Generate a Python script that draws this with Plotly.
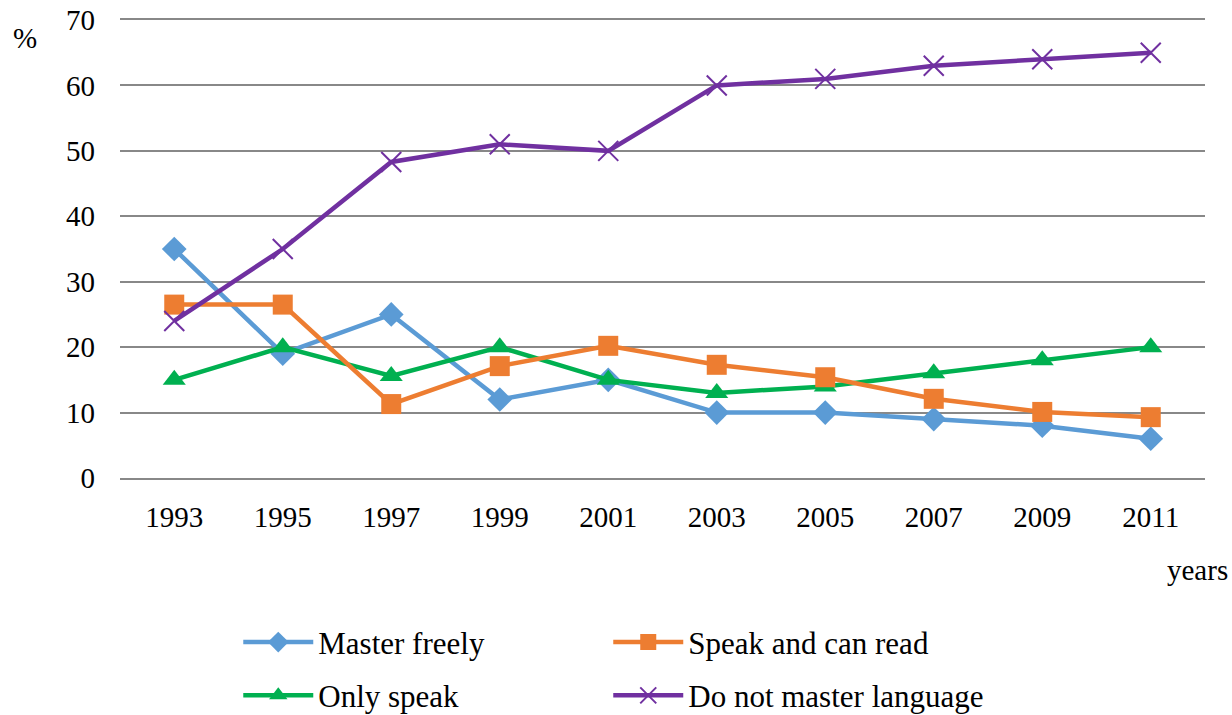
import plotly.graph_objects as go

years = ["1993", "1995", "1997", "1999", "2001", "2003", "2005", "2007", "2009", "2011"]
master_freely = [35, 19, 25, 12, 15, 10, 10, 9, 8, 6]
speak_read = [26.5, 26.5, 11.3, 17.1, 20.2, 17.3, 15.4, 12.1, 10.1, 9.3]
only_speak = [15, 20, 15.6, 20, 15, 13, 14, 16, 18, 20]
not_master = [24, 35, 48.3, 51, 50, 60, 61, 63, 64, 65]

FONT = "Liberation Serif"

fig = go.Figure()
fig.add_trace(go.Scatter(x=years, y=master_freely, name="Master freely", mode="lines+markers",
                         line=dict(color="#5B9BD5", width=4.5),
                         marker=dict(symbol="diamond", size=19, color="#5B9BD5"),
                         legend="legend", legendgroup="a"))
fig.add_trace(go.Scatter(x=years, y=only_speak, name="Only speak", mode="lines+markers",
                         line=dict(color="#00B050", width=4.5),
                         marker=dict(symbol="triangle-up", size=20, color="#00B050"),
                         legend="legend", legendgroup="b"))
fig.add_trace(go.Scatter(x=years, y=speak_read, name="Speak and can read", mode="lines+markers",
                         line=dict(color="#ED7D31", width=4.5),
                         marker=dict(symbol="square", size=20, color="#ED7D31"),
                         legend="legend2", legendgroup="c"))
fig.add_trace(go.Scatter(x=years, y=not_master, name="Do not master language", mode="lines+markers",
                         line=dict(color="#7030A0", width=4.5),
                         marker=dict(symbol="x-thin", size=20, line=dict(color="#7030A0", width=2)),
                         legend="legend2", legendgroup="d"))

fig.update_layout(
    width=1232, height=715,
    margin=dict(l=120, r=27, t=20, b=237, autoexpand=False),
    paper_bgcolor="white", plot_bgcolor="white",
    font=dict(family=FONT, size=29, color="black"),
    showlegend=True,
    legend=dict(x=0.109, y=-0.3, xanchor="left", yanchor="top", orientation="v",
                tracegroupgap=10, itemwidth=70, font=dict(size=31, family=FONT),
                bgcolor="rgba(0,0,0,0)"),
    legend2=dict(x=0.45, y=-0.3, xanchor="left", yanchor="top", orientation="v",
                 tracegroupgap=10, itemwidth=70, font=dict(size=31, family=FONT),
                 bgcolor="rgba(0,0,0,0)"),
    xaxis=dict(type="category", range=[-0.5, 9.5], showgrid=False, showline=True,
               mirror=True, linecolor="#888888", linewidth=2,
               zeroline=False, ticks="", ticklabelstandoff=12,
               tickfont=dict(size=29, family=FONT)),
    yaxis=dict(range=[0, 70], dtick=10, showgrid=True, gridcolor="#888888", gridwidth=2,
               zeroline=False, showline=False, ticks="", ticklabelstandoff=24,
               tickfont=dict(size=29, family=FONT)),
    annotations=[
        dict(text="%", xref="paper", yref="paper", x=(25 - 120) / 1085, y=(478 - 38) / 458,
             xanchor="center", yanchor="middle", showarrow=False, font=dict(size=29, family=FONT)),
        dict(text="years", xref="paper", yref="paper", x=(1197 - 120) / 1085, y=(478 - 570) / 458,
             xanchor="center", yanchor="middle", showarrow=False, font=dict(size=29, family=FONT)),
    ],
)

fig.write_html("out.html", config={"displayModeBar": False},
               post_script="document.body.style.margin='0';document.body.style.overflow='hidden';")
